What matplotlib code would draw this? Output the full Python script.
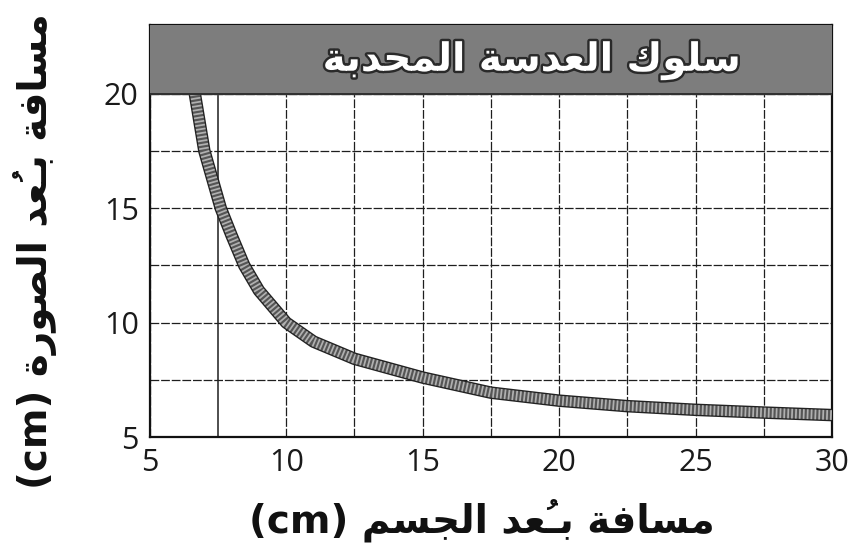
import numpy as np
import matplotlib
matplotlib.use("Agg")
import matplotlib.pyplot as plt
import matplotlib.patheffects as pe

# ---- data ----
object_distance = [6.65, 7.0, 7.6, 8.0, 8.46, 9.0, 10.0, 11.0, 12.5, 15.0, 17.5, 20.0, 22.5, 25.0, 27.5, 30.0]
image_distance = [20.0, 17.5, 15.0, 13.8, 12.5, 11.4, 10.0, 9.17, 8.42, 7.6, 6.94, 6.59, 6.35, 6.19, 6.07, 5.96]
x_ticks = [5, 10, 15, 20, 25, 30]
y_ticks = [5, 10, 15, 20]
title_text = "سلوك العدسة المحدبة"
xlabel_text = "مسافة بُعد الجسم"
ylabel_text = "مسافة بُعد الصورة"
unit_text = "(cm)"

# ---- minimal Arabic shaping (matplotlib has no complex text layout) ----
DUAL = {
    'ب': (0xFE8F, 0xFE90, 0xFE91, 0xFE92), 'ج': (0xFE9D, 0xFE9E, 0xFE9F, 0xFEA0),
    'ح': (0xFEA1, 0xFEA2, 0xFEA3, 0xFEA4), 'س': (0xFEB1, 0xFEB2, 0xFEB3, 0xFEB4),
    'ص': (0xFEB9, 0xFEBA, 0xFEBB, 0xFEBC), 'ع': (0xFEC9, 0xFECA, 0xFECB, 0xFECC),
    'ف': (0xFED1, 0xFED2, 0xFED3, 0xFED4), 'ك': (0xFED9, 0xFEDA, 0xFEDB, 0xFEDC),
    'ل': (0xFEDD, 0xFEDE, 0xFEDF, 0xFEE0), 'م': (0xFEE1, 0xFEE2, 0xFEE3, 0xFEE4),
}
RIGHT = {
    'ا': (0xFE8D, 0xFE8E), 'ة': (0xFE93, 0xFE94), 'د': (0xFEA9, 0xFEAA),
    'ر': (0xFEAD, 0xFEAE), 'و': (0xFEED, 0xFEEE),
}
MARK_MEDIAL = {'\u064F': '\uFE79'}  # damma on a joining letter -> tatweel+damma


def shape(s):
    chars = list(s)
    n = len(chars)
    clusters = []
    for i, c in enumerate(chars):
        if c in MARK_MEDIAL:
            clusters.append(MARK_MEDIAL[c])
            continue
        if c in DUAL or c in RIGHT:
            j = i - 1
            while j >= 0 and chars[j] in MARK_MEDIAL:
                j -= 1
            prev = chars[j] if j >= 0 else None
            k = i + 1
            while k < n and chars[k] in MARK_MEDIAL:
                k += 1
            nxt = chars[k] if k < n else None
            cp = prev in DUAL
            cn = (c in DUAL) and (nxt in DUAL or nxt in RIGHT)
            forms = DUAL.get(c) or RIGHT.get(c)
            if cp and cn:
                g = forms[3]
            elif cp:
                g = forms[1]
            elif cn:
                g = forms[2]
            else:
                g = forms[0]
            clusters.append(chr(g))
        else:
            clusters.append(c)
    return ''.join(reversed(clusters))


arabic_font = ['DejaVu Sans']
num_font = ['Open Sans', 'DejaVu Sans']

fig = plt.figure(figsize=(8.56, 5.47), dpi=100)
ax = fig.add_axes([0.175, 0.201, 0.797, 0.753])

ax.set_xlim(5, 30)
ax.set_ylim(5, 23)
ax.set_xticks(x_ticks)
ax.set_yticks(y_ticks)
ax.set_xticks([12.5, 17.5, 22.5, 27.5], minor=True)
ax.set_yticks([7.5, 12.5, 17.5], minor=True)
ax.grid(which='both', color='#1e1e1e', lw=0.9, ls=(0, (7, 1.5)), zorder=1)
ax.axvline(7.5, color='#1e1e1e', lw=1.1, zorder=1)
ax.set_axisbelow(True)
ax.tick_params(which='both', length=0, labelsize=22, pad=8)
for lab in ax.get_xticklabels() + ax.get_yticklabels():
    lab.set_family(num_font)
    lab.set_color('#1a1a1a')

for sp in ax.spines.values():
    sp.set_linewidth(1.6)
    sp.set_color('#111111')

# banner
ax.axhspan(20, 23, color='#7d7d7d', zorder=5)
ax.axhline(20, color='#222222', lw=1.2, zorder=5.5)
ax.text(19.0, 21.45, shape(title_text), ha='center', va='center', fontsize=28,
        fontweight='bold', color='white', family=arabic_font, zorder=6,
        path_effects=[pe.withStroke(linewidth=3.5, foreground='#2a2a2a')])

# curve (thick textured band)
ax.plot(object_distance, image_distance, color='#222222', lw=9,
        solid_capstyle='butt', solid_joinstyle='round', zorder=4)
ax.plot(object_distance, image_distance, color='#555555', lw=7,
        solid_capstyle='butt', solid_joinstyle='round', zorder=4.1)
ax.plot(object_distance, image_distance, color='#b0b0b0', lw=7,
        ls=(0, (0.18, 0.22)), zorder=4.2)

fig.text(0.563, 0.049, unit_text + " " + shape(xlabel_text), ha='center', va='center',
         fontsize=28, fontweight='bold', color='#111111', family=arabic_font)
fig.text(0.041, 0.54, unit_text + " " + shape(ylabel_text), ha='center', va='center',
         fontsize=28, fontweight='bold', color='#111111', family=arabic_font,
         rotation=90)

fig.savefig('out.png', dpi=100, facecolor='white')
